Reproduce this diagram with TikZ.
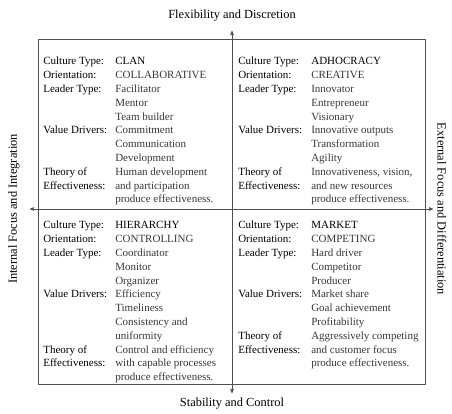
\documentclass[tikz,border=0pt]{standalone}
\usepackage{fontspec}
\setmainfont{Liberation Serif}
\usepackage{tikz}
\usetikzlibrary{arrows}
\definecolor{lgrey}{RGB}{80,80,80}
\definecolor{vgrey}{RGB}{55,55,55}

\begin{document}
\begin{tikzpicture}[x=1pt,y=1pt,>=stealth',line width=0.6pt,draw=lgrey]
  \tikzstyle{quad}=[anchor=north west,inner sep=0pt,text=black,font=\fontsize{11}{13.8}\selectfont]
  \tikzstyle{axis}=[inner sep=0pt,text=black,font=\fontsize{12.4}{14}\selectfont]
  \useasboundingbox (0,0) rectangle (452,413);
  % frame and axes
  \draw[lgrey] (38,29) rectangle (425,374);
  \coordinate (o) at (232,204);
  \coordinate (n) at (232,382);
  \coordinate (s) at (232,20);
  \coordinate (w) at (30,204);
  \coordinate (e) at (433,204);
  \draw[lgrey,<->] (s) -- (n);
  \draw[lgrey,<->] (w) -- (e);
  \node[axis] (top) at (232,397) {Flexibility and Discretion};
  \node[axis] (bot) at (232,9) {Stability and Control};
  \node[axis,rotate=90] (lft) at (14,204) {Internal Focus and Integration};
  \node[axis,rotate=-90] (rgt) at (442,204) {External Focus and Differentiation};
  % quadrants
  \node[quad] (clan) at (43,358) {\begin{tabular}{@{}p{72pt}@{}l@{}}
    Culture Type: & CLAN\\
    Orientation: & \color{vgrey}COLLABORATIVE\\
    Leader Type: & \color{vgrey}Facilitator\\
    & \color{vgrey}Mentor\\
    & \color{vgrey}Team builder\\
    Value Drivers: & \color{vgrey}Commitment\\
    & \color{vgrey}Communication\\
    & \color{vgrey}Development\\
    Theory of & \color{vgrey}Human development\\
    Effectiveness: & \color{vgrey}and participation\\
    & \color{vgrey}produce effectiveness.
  \end{tabular}};
  \node[quad] (adho) at (238,358) {\begin{tabular}{@{}p{73pt}@{}l@{}}
    Culture Type: & ADHOCRACY\\
    Orientation: & \color{vgrey}CREATIVE\\
    Leader Type: & \color{vgrey}Innovator\\
    & \color{vgrey}Entrepreneur\\
    & \color{vgrey}Visionary\\
    Value Drivers: & \color{vgrey}Innovative outputs\\
    & \color{vgrey}Transformation\\
    & \color{vgrey}Agility\\
    Theory of & \color{vgrey}Innovativeness, vision,\\
    Effectiveness: & \color{vgrey}and new resources\\
    & \color{vgrey}produce effectiveness.
  \end{tabular}};
  \node[quad] (hier) at (43,194) {\begin{tabular}{@{}p{72pt}@{}l@{}}
    Culture Type: & HIERARCHY\\
    Orientation: & \color{vgrey}CONTROLLING\\
    Leader Type: & \color{vgrey}Coordinator\\
    & \color{vgrey}Monitor\\
    & \color{vgrey}Organizer\\
    Value Drivers: & \color{vgrey}Efficiency\\
    & \color{vgrey}Timeliness\\
    & \color{vgrey}Consistency and\\
    & \color{vgrey}uniformity\\
    Theory of & \color{vgrey}Control and efficiency\\
    Effectiveness: & \color{vgrey}with capable processes\\
    & \color{vgrey}produce effectiveness.
  \end{tabular}};
  \node[quad] (mrkt) at (238,194) {\begin{tabular}{@{}p{73pt}@{}l@{}}
    Culture Type: & MARKET\\
    Orientation: & \color{vgrey}COMPETING\\
    Leader Type: & \color{vgrey}Hard driver\\
    & \color{vgrey}Competitor\\
    & \color{vgrey}Producer\\
    Value Drivers: & \color{vgrey}Market share\\
    & \color{vgrey}Goal achievement\\
    & \color{vgrey}Profitability\\
    Theory of & \color{vgrey}Aggressively competing\\
    Effectiveness: & \color{vgrey}and customer focus\\
    & \color{vgrey}produce effectiveness.
  \end{tabular}};
\end{tikzpicture}
\end{document}
